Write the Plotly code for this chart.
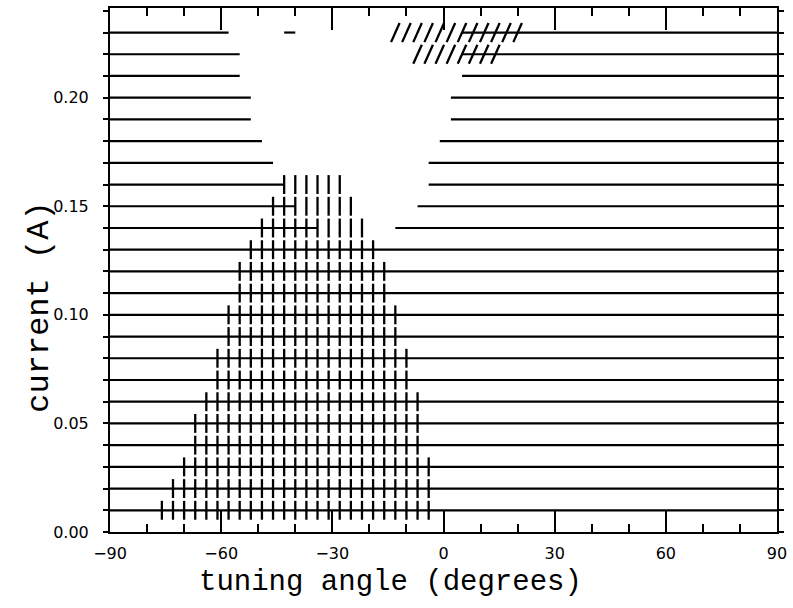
import plotly.graph_objects as go

# %% data
current = [0.01, 0.02, 0.03, 0.04, 0.05, 0.06, 0.07, 0.08, 0.09, 0.10, 0.11, 0.12,
           0.13, 0.14, 0.15, 0.16, 0.17, 0.18, 0.19, 0.20, 0.21, 0.22, 0.23]

# grid of tuning angles where the runs were taken
angles = [-76, -73, -70, -67, -64, -61, -58, -55, -52, -49, -46, -43, -40, -37,
          -34, -31, -28, -25, -22, -19, -16, -13, -10, -7, -4, -1, 2, 5, 8, 11,
          14, 17, 20]

# horizontal line: left piece runs from -90 up to line_left_end (90 = whole row)
line_left_end = [90, 90, 90, 90, 90, 90, 90, 90, 90, 90, 90, 90,
                 90, -34, -40, -43, -46, -49, -52, -52, -55, -55, -58]
# right piece runs from line_right_start to 90 (None = no right piece)
line_right_start = [None, None, None, None, None, None, None, None, None, None, None, None,
                    None, -13, -7, -4, -4, -1, 2, 2, 5, 5, 5]

# vertical marks (first / last angle in each row)
tick_first = [-76, -73, -70, -67, -67, -64, -61, -61, -58, -58, -55, -55,
              -52, -49, -46, -43, None, None, None, None, None, None, None]
tick_last = [-4, -4, -4, -7, -7, -7, -10, -10, -13, -13, -16, -16,
             -19, -22, -25, -28, None, None, None, None, None, None, None]

# slanted marks
slash_first = [None] * 21 + [-7, -13]
slash_last = [None] * 21 + [14, 20]

# short isolated dash in the top row
dash_current = 0.23
dash_from, dash_to = -43, -40

# %% build traces
hx, hy = [], []
for i, c in enumerate(current):
    hx += [-90, line_left_end[i], None]
    hy += [c, c, None]
    if line_right_start[i] is not None:
        hx += [line_right_start[i], 90, None]
        hy += [c, c, None]
hx += [dash_from, dash_to, None]
hy += [dash_current, dash_current, None]

tx, ty = [], []
sx, sy = [], []
for i, c in enumerate(current):
    for a in angles:
        if tick_first[i] is not None and tick_first[i] <= a <= tick_last[i]:
            tx.append(a)
            ty.append(c)
        if slash_first[i] is not None and slash_first[i] <= a <= slash_last[i]:
            sx.append(a)
            sy.append(c)

lines = go.Scatter(x=hx, y=hy, mode='lines', line=dict(color='black', width=2.2),
                   hoverinfo='skip', showlegend=False)
ticks = go.Scatter(x=tx, y=ty, mode='markers',
                   marker=dict(symbol='line-ns', size=13.5,
                               line=dict(color='black', width=2.3)),
                   showlegend=False)
slashes = go.Scatter(x=sx, y=sy, mode='markers',
                     marker=dict(symbol='line-ns', size=15, angle=24,
                                 line=dict(color='black', width=2.3)),
                     showlegend=False)

tickfont = dict(family='DejaVu Sans', size=16, color='black')

layout = go.Layout(
    width=793, height=608,
    margin=dict(l=110, r=11, t=6, b=76),
    paper_bgcolor='white', plot_bgcolor='white',
    xaxis=dict(range=[-90, 90], tickvals=[-90, -60, -30, 0, 30, 60, 90],
               ticktext=['\u221290', '\u221260', '\u221230', '0', '30', '60', '90'],
               ticks='inside', ticklen=22, tickwidth=1.5, tickcolor='black',
               minor=dict(dtick=10, tick0=0, ticks='inside', ticklen=8,
                          tickwidth=1.5, tickcolor='black'),
               showline=True, linewidth=2, linecolor='black', mirror='ticks',
               showgrid=False, zeroline=False, tickfont=tickfont,
               ticklabelstandoff=6),
    yaxis=dict(range=[0, 0.2413], tickvals=[0, 0.05, 0.10, 0.15, 0.20],
               ticktext=['0.00', '0.05', '0.10', '0.15', '0.20'],
               ticks='outside', ticklen=5, tickwidth=1.5, tickcolor='black',
               minor=dict(dtick=0.01, tick0=0, ticks='outside', ticklen=5,
                          tickwidth=1.5, tickcolor='black'),
               showline=True, linewidth=2, linecolor='black', mirror='ticks',
               showgrid=False, zeroline=False, tickfont=tickfont,
               ticklabelstandoff=11),
    annotations=[
        dict(text='tuning angle (degrees)', xref='paper', yref='paper',
             x=0.421, y=-0.097, xanchor='center', yanchor='middle',
             showarrow=False,
             font=dict(family='Liberation Mono', size=29, color='black')),
        dict(text='current (A)', xref='paper', yref='paper',
             x=-0.105, y=0.43, xanchor='center', yanchor='middle',
             textangle=-90, showarrow=False,
             font=dict(family='Liberation Mono', size=32, color='black')),
    ],
)

fig = go.Figure(data=[lines, ticks, slashes], layout=layout)
# the page body has an 8px margin by default; drop it so the figure fills the window
fig.write_html('out.html', config={'displayModeBar': False},
               post_script="document.body.style.margin='0px';")
